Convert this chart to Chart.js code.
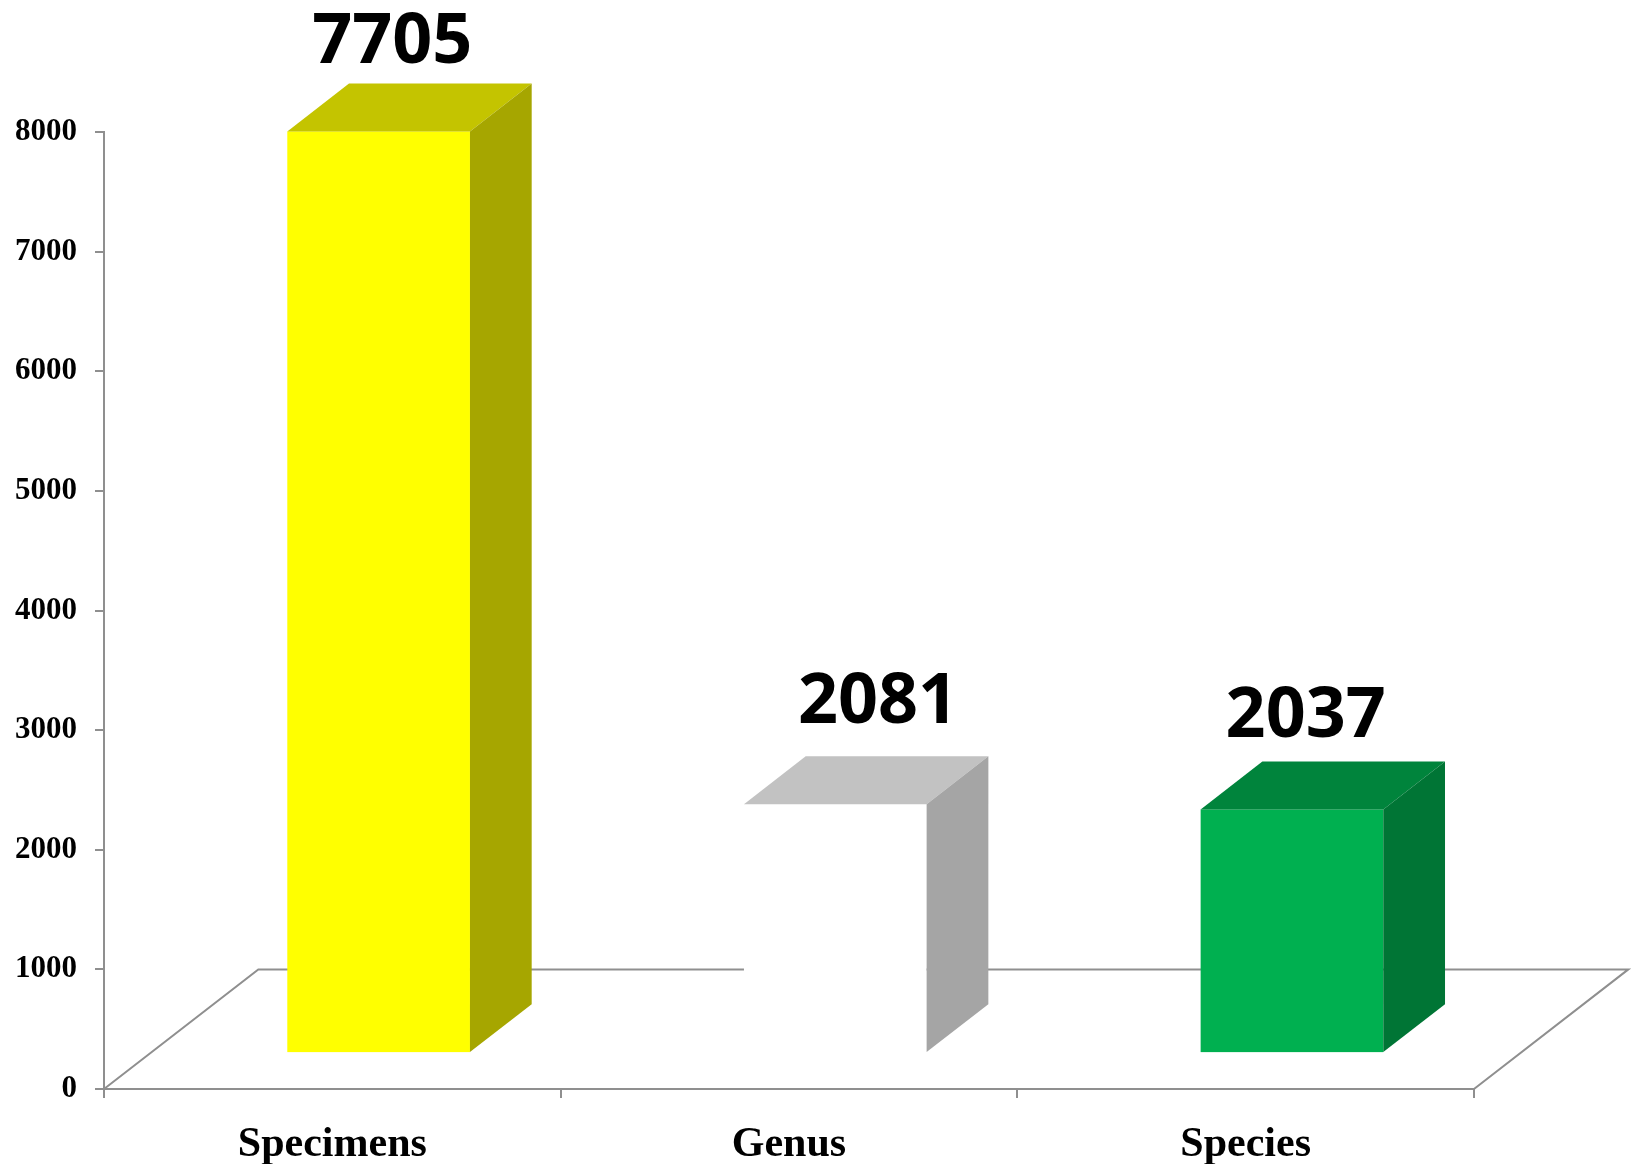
<!DOCTYPE html>
<html>
<head>
<meta charset="utf-8">
<script src="https://cdn.jsdelivr.net/npm/chart.js@4.4.1/dist/chart.umd.min.js"></script>
<style>
  html, body { margin: 0; padding: 0; background: #fff; }
  #wrap { width: 1633px; height: 1164px; position: relative; }
</style>
</head>
<body>
<div id="wrap"><canvas id="bars"></canvas></div>
<script>
const categories = ['Specimens', 'Genus', 'Species']
const counts = [7705, 2081, 2037]
const yTicks = [0, 1000, 2000, 3000, 4000, 5000, 6000, 7000, 8000]

// front / top / side shades for each box
const frontColors = ['#FFFF00', '#FFFFFF', '#00B050']
const topColors = ['#C4C400', '#C2C2C2', '#00843C']
const sideColors = ['#A6A600', '#A5A5A5', '#007535']

const axisGray = '#8f8f8f'

// fake 3D: floor depth and where the boxes sit inside it
const box3d = {
  id: 'box3d',
  depth(chart) {
    const y = chart.scales.y
    const dy = y.getPixelForValue(0) - y.getPixelForValue(1000)
    return { dx: dy * 1.29, dy: dy }
  },
  beforeDatasetsDraw(chart) {
    const { ctx, chartArea } = chart
    const { dx, dy } = this.depth(chart)
    const y0 = chart.scales.y.getPixelForValue(0)
    ctx.save()
    ctx.strokeStyle = axisGray
    ctx.lineWidth = 2
    ctx.beginPath()
    ctx.moveTo(chartArea.left, y0)
    ctx.lineTo(chartArea.left + dx, y0 - dy)
    ctx.lineTo(chartArea.right + dx, y0 - dy)
    ctx.lineTo(chartArea.right, y0)
    ctx.stroke()
    ctx.restore()
  },
  afterDatasetsDraw(chart, args, opts) {
    const { ctx } = chart
    const { dx, dy } = this.depth(chart)
    const meta = chart.getDatasetMeta(0)
    const fx = dx * 0.3, fy = dy * 0.3   // front face pushed back
    const bx = dx * 0.4, by = dy * 0.4   // box depth
    ctx.save()
    meta.data.forEach((bar, i) => {
      const l = bar.x - bar.width / 2 + fx
      const r = bar.x + bar.width / 2 + fx
      const t = bar.y - fy
      const b = bar.base - fy

      ctx.fillStyle = frontColors[i]
      ctx.fillRect(l, t, r - l, b - t)

      ctx.fillStyle = topColors[i]
      ctx.beginPath()
      ctx.moveTo(l, t)
      ctx.lineTo(l + bx, t - by)
      ctx.lineTo(r + bx, t - by)
      ctx.lineTo(r, t)
      ctx.closePath()
      ctx.fill()

      ctx.fillStyle = sideColors[i]
      ctx.beginPath()
      ctx.moveTo(r, t)
      ctx.lineTo(r + bx, t - by)
      ctx.lineTo(r + bx, b - by)
      ctx.lineTo(r, b)
      ctx.closePath()
      ctx.fill()

      // value label over the box (labels were nudged by hand in the original)
      ctx.fillStyle = '#000'
      ctx.font = 'bold 70px "Open Sans"'
      ctx.textAlign = 'center'
      ctx.textBaseline = 'middle'
      ctx.fillText(String(counts[i]), bar.x + 60 + opts.nudgeX[i], t - by - opts.lift[i])
    })
    ctx.restore()
  }
}

const ctx = document.getElementById('bars')
window.myBars = new Chart(ctx, {
  type: 'bar',
  data: {
    labels: categories,
    datasets: [
      {
        data: counts,
        backgroundColor: 'rgba(0,0,0,0)',
        borderWidth: 0,
        categoryPercentage: 1,
        barPercentage: 0.4,
      },
    ],
  },
  options: {
    responsive: true,
    maintainAspectRatio: false,
    animation: false,
    layout: { padding: { top: 132, right: 159, left: 0, bottom: 0 } },
    plugins: {
      legend: { display: false },
      tooltip: { enabled: false },
      box3d: { nudgeX: [0, 29, 0], lift: [40, 53, 45] },
    },
    scales: {
      x: {
        grid: {
          offset: true,
          drawOnChartArea: false,
          tickLength: 9,
          color: axisGray,
          lineWidth: 2,
        },
        border: { color: axisGray, width: 2 },
        ticks: {
          color: '#000',
          padding: 22,
          font: { family: '"Liberation Serif"', weight: 'bold', size: 42 },
        },
        afterFit(scale) { scale.height = 75 },
      },
      y: {
        min: 0,
        max: 8000,
        afterBuildTicks(scale) { scale.ticks = yTicks.map(v => ({ value: v })) },
        grid: {
          drawOnChartArea: false,
          tickLength: 9,
          color: axisGray,
          lineWidth: 2,
        },
        border: { color: axisGray, width: 2 },
        ticks: {
          color: '#000',
          padding: 18,
          callback: v => String(v),
          font: { family: '"Liberation Serif"', weight: 'bold', size: 31 },
        },
        afterFit(scale) { scale.width = 104 },
      },
    },
  },
  plugins: [box3d],
})
</script>
</body>
</html>
